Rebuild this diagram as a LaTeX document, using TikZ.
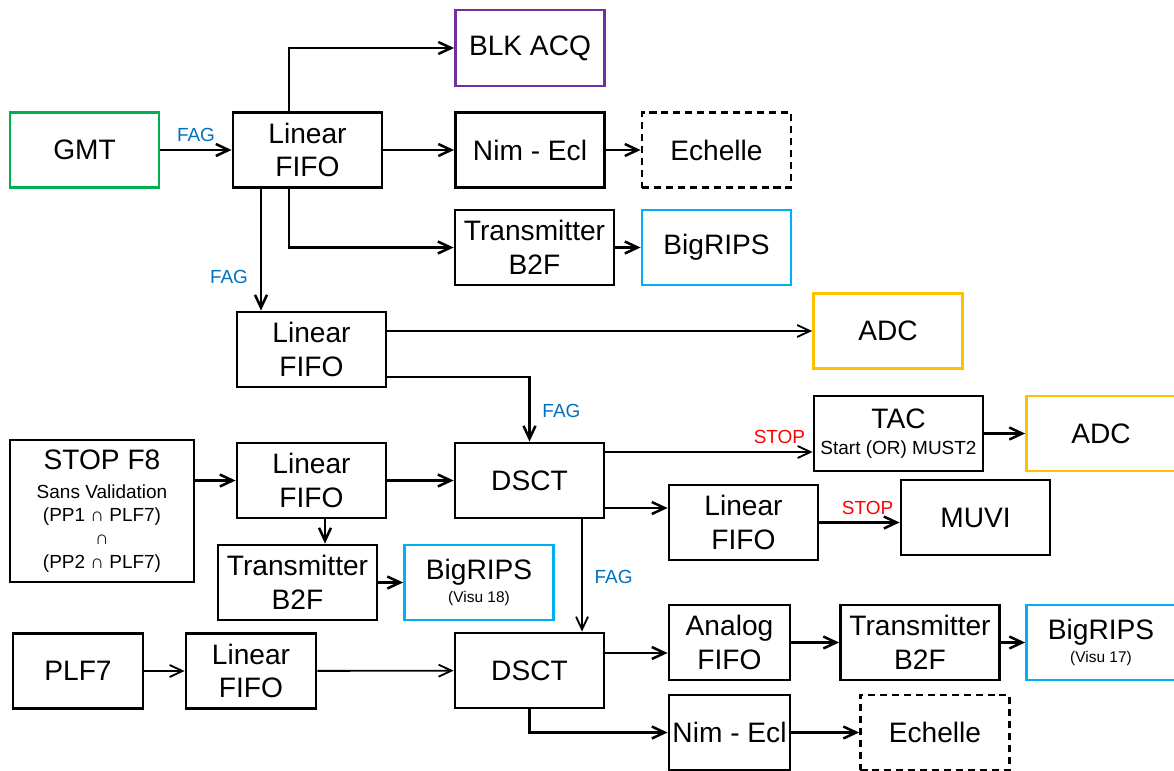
\documentclass[tikz,border=0pt]{standalone}
\usepackage{fontspec}
\setmainfont{Liberation Sans}
\usepackage{xcolor}
\usepackage{tikz}
\usetikzlibrary{arrows.meta, positioning, calc}

\definecolor{gmtgreen}{RGB}{0,176,80}
\definecolor{acqpurple}{RGB}{112,48,160}
\definecolor{ripsblue}{RGB}{0,176,240}
\definecolor{adcorange}{RGB}{255,192,0}
\definecolor{fagblue}{RGB}{0,112,192}
\definecolor{stopred}{RGB}{255,0,0}

\begin{document}
\begin{tikzpicture}[
    x=0.025cm, y=-0.025cm,
    block/.style={rectangle, draw, line width=2pt, minimum width=3.725cm, minimum height=1.875cm, inner sep=0pt, align=center, font=\fontsize{20}{24}\selectfont},
    wide/.style={minimum width=3.975cm},
    narrow/.style={minimum width=3.025cm},
    echelle/.style={block, dash pattern=on 5pt off 3.5pt},
    arrow/.style={line width=1.8pt, -{Straight Barb[length=3.2mm, width=3mm]}},
    thinarrow/.style={arrow, line width=1.3pt},
    faglab/.style={text=fagblue, font=\fontsize{13.5}{16}\selectfont},
    stoplab/.style={text=stopred, font=\fontsize{13.5}{16}\selectfont},
    smalltext/.style={font=\fontsize{13.5}{16.5}\selectfont}
]
\useasboundingbox (0,0) rectangle (1174,770);

% GMT branch
\node (gmt) [block, draw=gmtgreen] at (84.5,150) {GMT};
\node (lfa) [block] at (307.5,150) {Linear\\FIFO};
\node (blk) [block, draw=acqpurple, minimum height=1.9cm] at (530,48) {BLK ACQ};
\node (nima) [block] at (530,150) {Nim - Ecl};
\node (echa) [echelle] at (716.5,150) {Echelle};
\node (tra) [block, wide] at (534.5,247.5) {Transmitter\\B2F};
\node (ripsa) [block, draw=ripsblue] at (716.5,247.5) {BigRIPS};

% second FIFO
\node (lfb) [block] at (311.5,349.5) {Linear\\FIFO};
\node (adca) [block, draw=adcorange] at (888,331) {ADC};

% STOP F8 line
\node (stopf) [block, smalltext, minimum width=4.6cm, minimum height=3.55cm] at (102,511)
    {{\fontsize{20}{24}\selectfont STOP F8}\\[4pt]Sans Validation\\(PP1 ∩ PLF7)\\∩\\(PP2 ∩ PLF7)};
\node (lfc) [block] at (311.5,480.5) {Linear\\FIFO};
\node (dscta) [block] at (529.5,480.5) {DSCT};
\node (tac) [block, minimum width=4.225cm] at (898.5,433.5)
    {TAC\\[-5.6pt]{\fontsize{13.5}{16}\selectfont Start (OR) MUST2}};
\node (adcb) [block, draw=adcorange] at (1101,433.5) {ADC};
\node (lfd) [block] at (743.5,522.5) {Linear\\FIFO};
\node (muvi) [block] at (975.5,517.5) {MUVI};
\node (trb) [block, wide] at (297.5,582.5) {Transmitter\\B2F};
\node (ripsb) [block, draw=ripsblue] at (479,582.5)
    {BigRIPS\\[-8pt]{\fontsize{11}{13}\selectfont (Visu 18)}};

% PLF7 line
\node (plf) [block, minimum width=3.25cm] at (78,671) {PLF7};
\node (lfe) [block, minimum width=3.25cm] at (251,671) {Linear\\FIFO};
\node (dsctb) [block] at (529.5,670.5) {DSCT};
\node (afifo) [block, narrow] at (729.5,642.5) {Analog\\FIFO};
\node (trc) [block, wide] at (920,642.5) {Transmitter\\B2F};
\node (ripsc) [block, draw=ripsblue] at (1101,642.5)
    {BigRIPS\\[-8pt]{\fontsize{11}{13}\selectfont (Visu 17)}};
\node (nimb) [block, narrow] at (729.5,732.5) {Nim - Ecl};
\node (echb) [echelle] at (935,732.5) {Echelle};

% Arrows
\draw [arrow] (gmt) -- node[faglab, midway, above=2pt] {FAG} (lfa);
\draw [arrow] ([xshift=-0.4625cm]lfa.north) |- (blk.west);
\draw [arrow] (lfa) -- (nima);
\draw [arrow] (nima) -- (echa);
\draw [arrow] ([xshift=-0.4625cm]lfa.south) |- (tra.west);
\draw [arrow] (tra) -- (ripsa);
\draw [arrow] ([xshift=-1.1625cm]lfa.south) -- node[faglab, pos=0.72, left=5pt] {FAG} ([xshift=-1.1625cm]lfa.south |- lfb.north);
\draw [thinarrow] (lfb.east |- adca.west) -- (adca.west);
\draw [arrow] ([yshift=-0.6875cm]lfb.east) -| node[faglab, pos=0.76, right=5pt] {FAG} (dscta.north);
\draw [arrow] (stopf.east |- lfc.west) -- (lfc.west);
\draw [arrow] (lfc) -- (dscta);
\draw [arrow] ([xshift=0.3375cm]lfc.south) -- ([xshift=0.3375cm]lfc.south |- trb.north);
\draw [arrow] (trb) -- (ripsb);
\draw [thinarrow] ([yshift=0.7125cm]dscta.east) -- node[stoplab, pos=0.84, above=2pt] {STOP} ([yshift=0.7125cm]dscta.east -| tac.west);
\draw [arrow] (tac) -- (adcb);
\draw [arrow] ([yshift=-0.6875cm]dscta.east) -- ([yshift=-0.6875cm]dscta.east -| lfd.west);
\draw [arrow] (lfd.east) -- node[stoplab, pos=0.6, above=1pt] {STOP} (lfd.east -| muvi.west);
\draw [thinarrow] ([xshift=1.3125cm]dscta.south) -- node[faglab, pos=0.51, right=5pt] {FAG} ([xshift=1.3125cm]dscta.south |- dsctb.north);
\draw [thinarrow] (plf) -- (lfe);
\draw [thinarrow] (lfe) -- (dsctb);
\draw [arrow] ([yshift=0.4375cm]dsctb.east) -- ([yshift=0.4375cm]dsctb.east -| afifo.west);
\draw [arrow] (afifo) -- (trc);
\draw [arrow] (trc) -- (ripsc);
\draw [arrow] (dsctb.south) |- (nimb.west);
\draw [arrow] (nimb) -- (echb);

\end{tikzpicture}
\end{document}
